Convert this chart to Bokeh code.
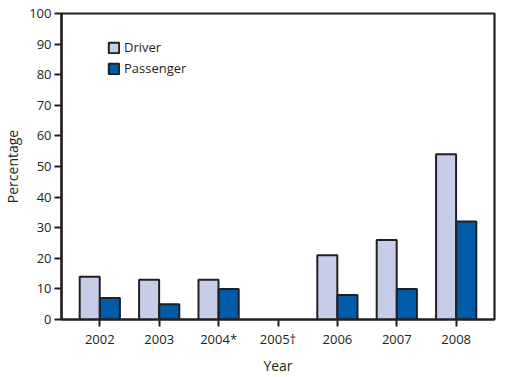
from bokeh.plotting import figure
from bokeh.models import ColumnDataSource, FixedTicker, Range1d, Legend, LegendItem
from bokeh.embed import file_html
from bokeh.resources import INLINE

years = ["2002", "2003", "2004*", "2005\u2020", "2006", "2007", "2008"]
driver = [14, 13, 13, 0, 21, 26, 54]
passenger = [7, 5, 10, 0, 8, 10, 32]
y_ticks = [0, 10, 20, 30, 40, 50, 60, 70, 80, 90, 100]

DARK = "#231f20"
FONT = "Open Sans"

xpos = list(range(len(years)))
shown = [i for i in xpos if driver[i] > 0 or passenger[i] > 0]
src_d = ColumnDataSource(dict(x=[xpos[i] - 0.17 for i in shown], top=[driver[i] for i in shown]))
src_p = ColumnDataSource(dict(x=[xpos[i] + 0.17 for i in shown], top=[passenger[i] for i in shown]))

p = figure(frame_width=433, frame_height=306, output_backend="svg", toolbar_location=None,
           x_range=Range1d(-0.645, len(years) - 1 + 0.645), y_range=Range1d(0, 100),
           min_border_left=61, min_border_top=13, min_border_right=6, min_border_bottom=5)
p.outline_line_color = DARK
p.outline_line_width = 2.2
p.xgrid.visible = False
p.ygrid.visible = False
p.background_fill_color = "white"
p.border_fill_color = "white"

rd = p.vbar(x="x", top="top", bottom=0, width=0.337, source=src_d,
            fill_color="#c6cde8", line_color=DARK, line_width=2)
rp = p.vbar(x="x", top="top", bottom=0, width=0.337, source=src_p,
            fill_color="#005ca9", line_color=DARK, line_width=2)

for ax in (p.xaxis[0], p.yaxis[0]):
    ax.axis_line_color = DARK
    ax.axis_line_width = 2.2
    ax.major_tick_line_color = DARK
    ax.major_tick_line_width = 2
    ax.major_tick_out = 7
    ax.major_tick_in = 0
    ax.minor_tick_line_color = None
    ax.major_label_text_font = FONT
    ax.major_label_text_font_size = "13px"
    ax.major_label_text_color = DARK
    ax.axis_label_text_font = FONT
    ax.axis_label_text_font_size = "14px"
    ax.axis_label_text_font_style = "normal"
    ax.axis_label_text_color = DARK

p.xaxis.ticker = FixedTicker(ticks=xpos)
p.xaxis.major_label_overrides = {i: years[i] for i in xpos}
p.xaxis.axis_label = "Year"
p.xaxis.major_label_standoff = 3
p.xaxis.axis_label_standoff = 5
p.yaxis.ticker = FixedTicker(ticks=y_ticks)
p.yaxis.axis_label = "Percentage"
p.yaxis.major_label_standoff = 3
p.yaxis.axis_label_standoff = 4

legend = Legend(items=[LegendItem(label="Driver", renderers=[rd]),
                       LegendItem(label="Passenger", renderers=[rp])],
                location=(46, 242), border_line_color=None, background_fill_alpha=0,
                label_text_font=FONT, label_text_font_size="13px", label_text_color=DARK,
                glyph_width=13, glyph_height=13, label_height=13, spacing=3,
                padding=0, margin=0, label_standoff=4)
p.add_layout(legend, "center")

open("out.html", "w").write(file_html(p, INLINE))
